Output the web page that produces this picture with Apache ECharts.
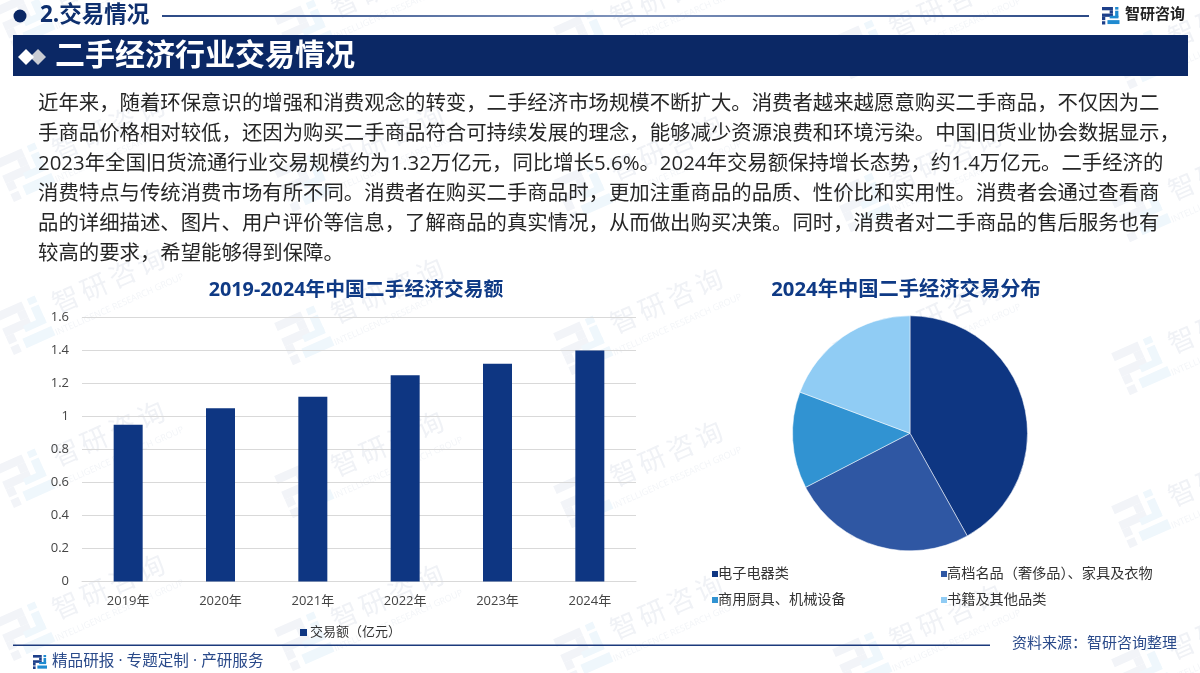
<!DOCTYPE html>
<html>
<head>
<meta charset="utf-8">
<title>二手经济行业交易情况</title>
<style>
  html, body { margin: 0; padding: 0; background: #fff; }
  #chart-container { width: 1200px; height: 673px; }
</style>
</head>
<body>
<div id="chart-container"></div>
<script src="https://fastly.jsdelivr.net/npm/echarts@6/dist/echarts.min.js"></script>
<script type="text/javascript">
// bar chart data
var years = ['2019年', '2020年', '2021年', '2022年', '2023年', '2024年'];
var tradeValues = [0.95, 1.05, 1.12, 1.25, 1.32, 1.4];
var barSeriesName = '交易额（亿元）';

// pie chart data, percent
var pieNames = ['电子电器类', '高档名品（奢侈品）、家具及衣物', '商用厨具、机械设备', '书籍及其他品类'];
var pieValues = [41.9, 25.5, 13.3, 19.3];
var pieColors = ['#0e3682', '#2f57a3', '#3193d2', '#90ccf4'];

// page text
var paragraphLines = [
  '近年来，随着环保意识的增强和消费观念的转变，二手经济市场规模不断扩大。消费者越来越愿意购买二手商品，不仅因为二',
  '手商品价格相对较低，还因为购买二手商品符合可持续发展的理念，能够减少资源浪费和环境污染。中国旧货业协会数据显示，',
  '2023年全国旧货流通行业交易规模约为1.32万亿元，同比增长5.6%。2024年交易额保持增长态势，约1.4万亿元。二手经济的',
  '消费特点与传统消费市场有所不同。消费者在购买二手商品时，更加注重商品的品质、性价比和实用性。消费者会通过查看商',
  '品的详细描述、图片、用户评价等信息，了解商品的真实情况，从而做出购买决策。同时，消费者对二手商品的售后服务也有',
  '较高的要求，希望能够得到保障。'
];

var FONT = '"Open Sans", "Noto Sans CJK SC", sans-serif';
var NAVY = '#0b2865';

// the 智研 logo as a few rectangles on a 16x16 box
function logo(x, y, size, dark, light, z, rotation) {
  var k = size / 16;
  var darkRects = [[0, 0, 10, 3], [7, 3, 3, 3], [0, 6, 10, 3], [0, 9, 3, 3], [0, 13, 3, 3]];
  var lightRects = [[12, 0, 3, 2.4], [12, 3.4, 3, 6], [7, 8, 8, 2.4], [5, 12, 11, 3.6]];
  var children = [];
  darkRects.forEach(function (r) {
    children.push({ type: 'rect', shape: { x: r[0] * k, y: r[1] * k, width: r[2] * k, height: r[3] * k }, style: { fill: dark } });
  });
  lightRects.forEach(function (r) {
    children.push({ type: 'rect', shape: { x: r[0] * k, y: r[1] * k, width: r[2] * k, height: r[3] * k }, style: { fill: light } });
  });
  return { type: 'group', x: x, y: y, z: z, rotation: rotation || 0, children: children };
}

function label(x, y, text, size, color, weight, align) {
  return {
    type: 'text', x: x, y: y, z: 5,
    style: { text: text, fill: color, font: (weight || 'normal') + ' ' + size + 'px ' + FONT, textAlign: align || 'left', textVerticalAlign: 'middle' }
  };
}

// faint repeated watermark behind everything
function watermark(cx, cy) {
  var rot = 24 * Math.PI / 180;
  var kids = [];
  var mark = logo(-25, -22, 46, '#f2f4f8', '#eff7fc', -10);
  mark.z = undefined;
  kids.push(mark);
  '智研咨询'.split('').forEach(function (ch, i) {
    kids.push({ type: 'text', x: 45 + i * 31, y: -6, style: { text: ch, fill: '#f0f2f6', font: '27px "Noto Sans CJK SC"', textAlign: 'center', textVerticalAlign: 'middle' } });
  });
  kids.push({ type: 'text', x: 92, y: 21, style: { text: 'INTELLIGENCE RESEARCH GROUP', fill: '#f3f5f8', font: '9px "Open Sans"', textAlign: 'center', textVerticalAlign: 'middle' } });
  return { type: 'group', x: cx, y: cy, z: -10, rotation: rot, children: kids };
}

var graphics = [];
for (var col = 0; col < 5; col++) {
  for (var row = -2; row < 3; row++) {
    var wx = 27 + col * 279;
    graphics.push(watermark(wx, 323 + (wx - 27) * 0.036 + row * 153));
  }
}

// header strip
graphics.push({ type: 'circle', z: 5, shape: { cx: 20, cy: 16, r: 6.5 }, style: { fill: NAVY } });
graphics.push(label(40, 16, '2.交易情况', 22.5, '#0e2f6e', 'bold'));
graphics.push({
  type: 'rect', z: 5, shape: { x: 162, y: 15, width: 927, height: 2 },
  style: { fill: { type: 'linear', x: 0, y: 0, x2: 1, y2: 0, colorStops: [{ offset: 0, color: '#2c4a86' }, { offset: 0.5, color: '#7f93bb' }, { offset: 1, color: '#2c4a86' }] } }
});
graphics.push(logo(1102, 7, 17.5, '#1d3f8a', '#1f8ad0', 5));
graphics.push(label(1125, 15, '智研咨询', 15, '#222', 'bold'));

// title banner
graphics.push({ type: 'rect', z: 5, shape: { x: 13, y: 35, width: 1175, height: 41 }, style: { fill: NAVY } });
graphics.push({ type: 'polygon', z: 5, shape: { points: [[38, 49], [46, 57], [38, 65], [30, 57]] }, style: { fill: '#c9ccd3' } });
graphics.push({ type: 'polygon', z: 6, shape: { points: [[26, 49], [34, 57], [26, 65], [18, 57]] }, style: { fill: '#fff' } });
graphics.push(label(55, 56, '二手经济行业交易情况', 30, '#fff', 'bold'));
graphics[graphics.length - 1].z = 6;

// paragraph
paragraphLines.forEach(function (line, i) {
  graphics.push(label(38, 104 + i * 30, line, 20.4, '#262626'));
});

// chart titles
graphics.push(label(356, 290, '2019-2024年中国二手经济交易额', 19.8, '#0f3a85', 'bold', 'center'));
graphics.push(label(906, 290, '2024年中国二手经济交易分布', 20.3, '#0f3a85', 'bold', 'center'));

// footer
graphics.push({ type: 'rect', z: 5, shape: { x: 13, y: 644.5, width: 977, height: 1.5 }, style: { fill: '#1c3a7c' } });
graphics.push(logo(33, 655, 14, '#1d3f8a', '#1f8ad0', 5));
graphics.push(label(52, 662, '精品研报 · 专题定制 · 产研服务', 15.6, '#2a4a8a'));
graphics.push(label(1012, 644, '资料来源：智研咨询整理', 15, '#2a4a8a'));

var pieLegendSpots = [[705, 562], [934, 562], [705, 588], [934, 588]];

var option = {
  animation: false,
  graphic: { elements: graphics },
  grid: { left: 82, right: 564, top: 317.5, bottom: 91.5 },
  xAxis: {
    type: 'category',
    data: years,
    axisTick: { show: false },
    axisLine: { lineStyle: { color: '#d9d9d9' } },
    axisLabel: { color: '#444', fontSize: 13, margin: 13, fontFamily: FONT }
  },
  yAxis: {
    type: 'value',
    min: 0,
    max: 1.6,
    interval: 0.2,
    axisLine: { show: false },
    axisTick: { show: false },
    splitLine: { lineStyle: { color: '#d9d9d9' } },
    axisLabel: { color: '#444', fontSize: 13, margin: 13, fontFamily: FONT }
  },
  legend: [{
    data: [barSeriesName],
    left: 295, top: 621,
    icon: 'rect', itemWidth: 7, itemHeight: 7, itemGap: 0,
    textStyle: { color: '#333', fontSize: 13, padding: [0, 0, 0, -2], fontFamily: FONT }
  }].concat(pieNames.map(function (name, i) {
    return {
      data: [name],
      left: pieLegendSpots[i][0], top: pieLegendSpots[i][1],
      icon: 'rect', itemWidth: 8, itemHeight: 8, itemGap: 0,
      textStyle: { color: '#333', fontSize: 14.2, padding: [0, 0, 0, -6], fontFamily: FONT }
    };
  })),
  series: [
    {
      name: barSeriesName,
      type: 'bar',
      data: tradeValues,
      barWidth: 29,
      itemStyle: { color: '#0e3682' },
      z: 3
    },
    {
      type: 'pie',
      center: [910, 433.3],
      radius: 117.5,
      startAngle: 90,
      clockwise: true,
      label: { show: false },
      labelLine: { show: false },
      itemStyle: { borderColor: '#fff', borderWidth: 0.5 },
      data: pieNames.map(function (name, i) {
        return { name: name, value: pieValues[i], itemStyle: { color: pieColors[i] } };
      }),
      z: 3
    }
  ]
};

var dom = document.getElementById('chart-container');
var myChart = echarts.init(dom, null, { renderer: 'canvas' });
myChart.setOption(option);
</script>
</body>
</html>
